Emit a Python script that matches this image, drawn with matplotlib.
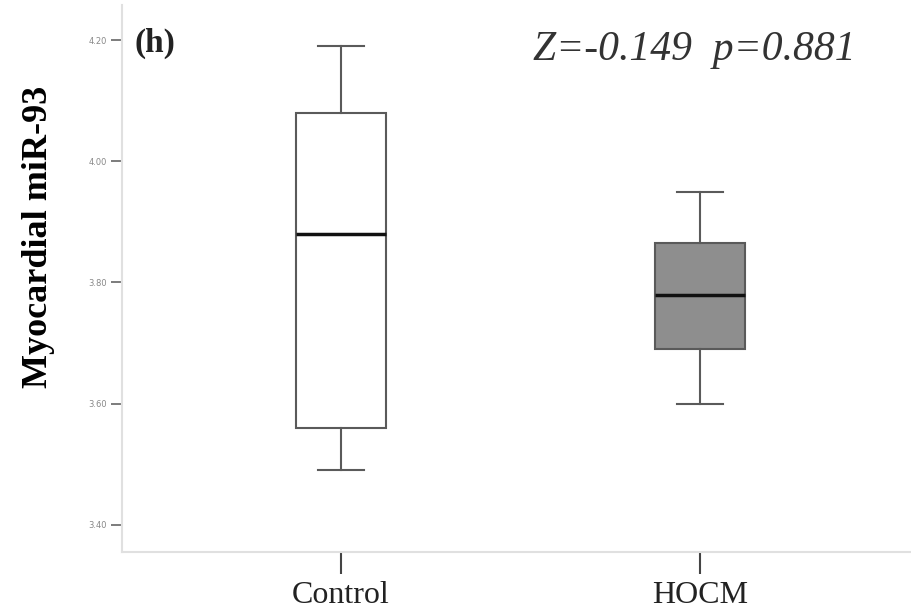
import numpy as np
import matplotlib.pyplot as plt

# box stats
groups = ['Control', 'HOCM']
whislo = [3.49, 3.60]
q1 = [3.56, 3.69]
med = [3.88, 3.78]
q3 = [4.08, 3.865]
whishi = [4.19, 3.95]
fills = ['white', '#8e8e8e']
yticks = [3.40, 3.60, 3.80, 4.00, 4.20]

fig = plt.figure(figsize=(9.12, 6.16), dpi=100)
ax = fig.add_axes([0.1338, 0.1039, 0.8662, 0.8880])

stats = []
for i in range(len(groups)):
    stats.append({'label': groups[i], 'whislo': whislo[i], 'q1': q1[i],
                  'med': med[i], 'q3': q3[i], 'whishi': whishi[i], 'fliers': []})

bp = ax.bxp(stats, positions=[1, 2], widths=0.25, patch_artist=True,
            showfliers=False,
            boxprops=dict(edgecolor='#5a5a5a', linewidth=1.5),
            whiskerprops=dict(color='#5a5a5a', linewidth=1.5),
            capprops=dict(color='#5a5a5a', linewidth=1.5),
            medianprops=dict(color='#111111', linewidth=2.5),
            capwidths=0.13)
for patch, c in zip(bp['boxes'], fills):
    patch.set_facecolor(c)

ax.set_xlim(0.39, 2.59)
ax.set_ylim(3.355, 4.258)
ax.set_yticks(yticks)
ax.set_yticklabels(['%.2f' % v for v in yticks], fontsize=6, color='#888888')
ax.tick_params(axis='y', length=8, width=1.2, color='#666666', pad=3)
ax.tick_params(axis='x', length=16, width=1.5, color='#444444', pad=5)
ax.set_xticks([1, 2])
ax.set_xticklabels(groups, fontsize=23, family='Liberation Serif', color='#222222')

for s in ['top', 'right']:
    ax.spines[s].set_visible(False)
for s in ['left', 'bottom']:
    ax.spines[s].set_color('#e0e0e0')
    ax.spines[s].set_linewidth(1.5)

ax.set_ylabel('Myocardial miR-93', fontsize=26, fontweight='bold',
              family='Liberation Serif')
ax.yaxis.set_label_coords(-0.106, 0.576)
ax.yaxis.label.set_va('center')

ax.text(0.016, 0.930, '(h)', transform=ax.transAxes, fontsize=24,
        fontweight='bold', family='Liberation Serif', va='center', color='#222222')
ax.text(0.725, 0.918, 'Z=-0.149  p=0.881', transform=ax.transAxes, fontsize=30,
        style='italic', family='Liberation Serif', va='center', ha='center',
        color='#333333')

fig.savefig('out.png', dpi=100)
